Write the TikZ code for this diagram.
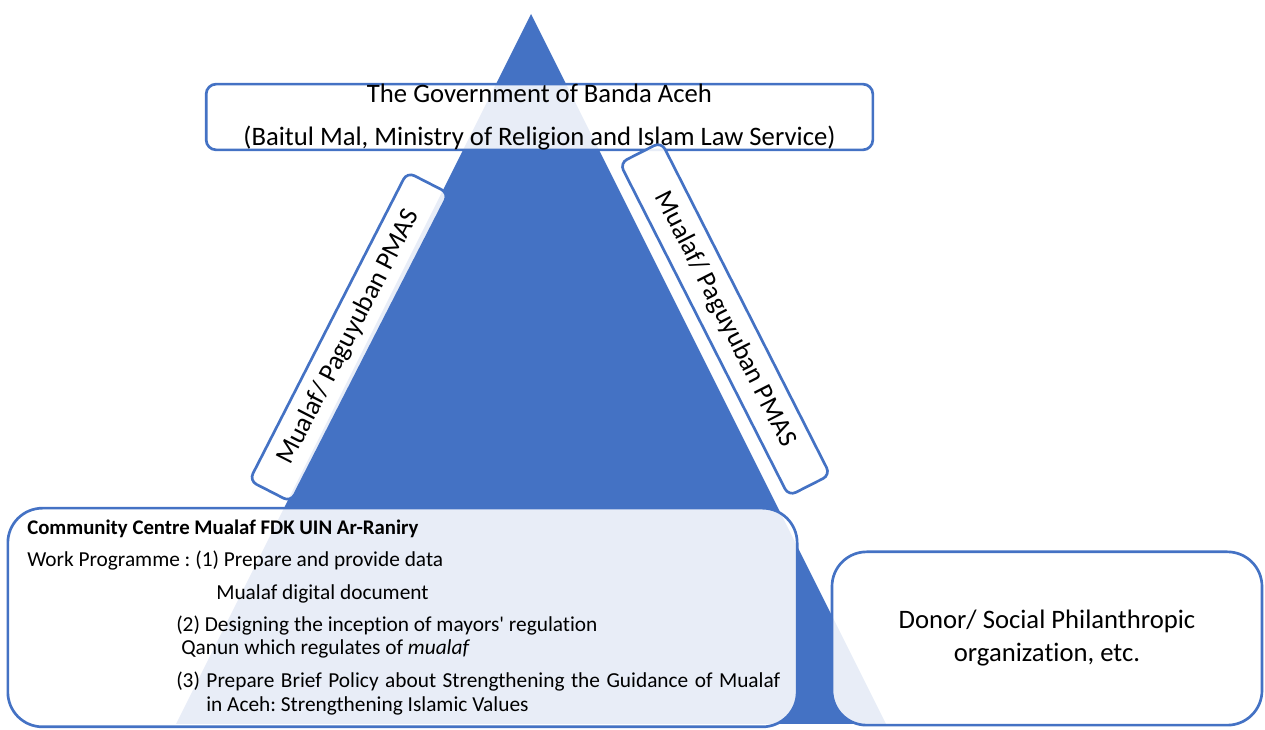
\documentclass[tikz,border=0pt]{standalone}
\usepackage{fontspec}
\setmainfont{Carlito}[Ligatures=NoCommon]
\usepackage{xcolor}
\usepackage{tikz}
\usetikzlibrary{positioning}
\frenchspacing

\definecolor{pyramid}{HTML}{4472C4}

\begin{document}
\begin{tikzpicture}[
  x=0.75pt, y=-0.75pt,
  frame/.style={draw=pyramid, line width=2pt, fill=white, fill opacity=0.88, text opacity=1, align=center},
  tagbox/.style={frame, rounded corners=6pt, minimum height=35pt, font=\fontsize{20}{24}\selectfont},
  entry/.style={anchor=base west, inner sep=0pt, font=\fontsize{16}{19.2}\selectfont}
]
\useasboundingbox (0,0) rectangle (1265,730);

% Pyramid
\coordinate (apex) at (531,14);
\coordinate (baseL) at (176,724);
\coordinate (baseR) at (886,724);
\fill[pyramid] (apex) -- (baseL) -- (baseR) -- cycle;

% Nodes
\node[frame, rounded corners=7.5pt, inner sep=0pt, minimum width=500pt, minimum height=46.5pt, font=\fontsize{20}{24}\selectfont] (gov) at (539.5,117) {\raisebox{-1pt}{The Government of Banda Aceh}\\[7pt]\raisebox{-2pt}{(Baitul Mal, Ministry of Religion and Islam Law Service)}};
\node[tagbox, rotate=62.9, minimum width=260pt] (tagL) at (349,337) {Mualaf/ Paguyuban PMAS};
\node[tagbox, rotate=-63.1, minimum width=280pt] (tagR) at (725,319) {Mualaf/ Paguyuban PMAS};
\node[frame, rounded corners=26pt, minimum width=592pt, minimum height=164pt] (centre) at (402.5,617.5) {};
\node[frame, rounded corners=26pt, minimum width=322.5pt, minimum height=130pt, font=\fontsize{20}{24.75}\selectfont] (donor) at (1047,638.5) {Donor/ Social Philanthropic\\organization, etc.};

% Work programme
\node[entry, font=\fontsize{15.6}{19.2}\selectfont\bfseries] (c1) at (27,535) {Community Centre Mualaf FDK UIN Ar-Raniry};
\node[entry] (c2) at (27,567) {Work Programme : (1) Prepare and provide data};
\node[entry] (c3) at (216,600) {Mualaf digital document};
\node[entry] (c4) at (176,632) {(2) Designing the inception of mayors\textquotesingle{} regulation};
\node[entry] (c5) at (181,655) {Qanun which regulates of \textit{mualaf}};
\node[entry] (c6) at (176,688) {\makebox[453pt][s]{(3) Prepare Brief Policy about Strengthening the Guidance of Mualaf}};
\node[entry] (c7) at (206,711.5) {in Aceh: Strengthening Islamic Values};

\end{tikzpicture}
\end{document}
